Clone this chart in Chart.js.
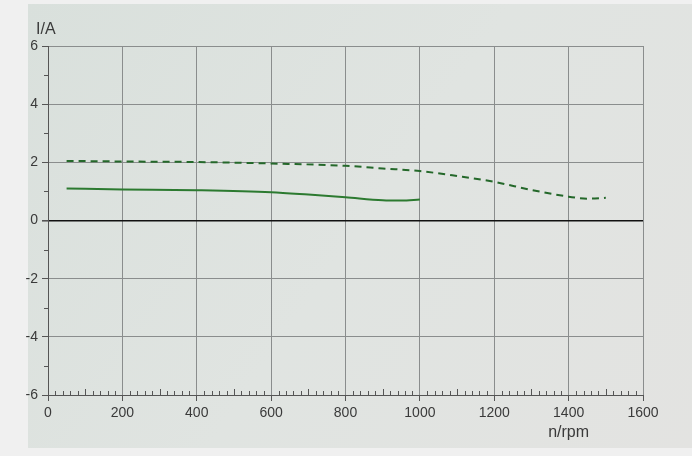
<!DOCTYPE html>
<html>
<head>
<meta charset="utf-8">
<script src="https://cdn.jsdelivr.net/npm/chart.js@4/dist/chart.umd.min.js"></script>
<style>
  html, body { margin: 0; padding: 0; background: #eeeeee; }
  #wrap { width: 692px; height: 456px; }
</style>
</head>
<body>
<div id="wrap"><canvas id="c" width="692" height="456"></canvas></div>
<script>
// Speed (rpm) and current (A) readings for the two curves
const speedDashed = [50, 200, 400, 600, 800, 900, 1000, 1100, 1200, 1300, 1400, 1450, 1500];
const currentDashed = [2.05, 2.03, 2.01, 1.96, 1.88, 1.79, 1.70, 1.53, 1.33, 1.05, 0.82, 0.75, 0.78];
const speedSolid = [50, 200, 400, 600, 700, 800, 900, 950, 1000];
const currentSolid = [1.10, 1.07, 1.04, 0.97, 0.89, 0.80, 0.70, 0.69, 0.72];

// Axis settings
const xTicks = [0, 200, 400, 600, 800, 1000, 1200, 1400, 1600];
const yTicks = [-6, -4, -2, 0, 2, 4, 6];
const xTitle = 'n/rpm';
const yTitle = 'I/A';

const toPoints = (xs, ys) => xs.map((x, i) => ({ x: x, y: ys[i] }));

const FONT = '"Liberation Sans", Arial, sans-serif';
const TEXT = '#3a3a3a';
const GRID = '#8a8d8d';

// Screen-like backdrop behind the plot
const backdrop = {
  id: 'backdrop',
  beforeDraw(chart) {
    const ctx = chart.ctx;
    ctx.save();
    ctx.fillStyle = '#f0f0f0';
    ctx.fillRect(0, 0, chart.width, chart.height);
    const g = ctx.createLinearGradient(28, 0, chart.width, chart.height);
    g.addColorStop(0, '#d9e0dc');
    g.addColorStop(0.5, '#e0e4e1');
    g.addColorStop(1, '#e3e3e1');
    ctx.fillStyle = g;
    ctx.fillRect(28, 4, chart.width - 28, chart.height - 12);
    ctx.restore();
  }
};

// Minor ticks and axis titles
const decorations = {
  id: 'decorations',
  afterDraw(chart) {
    const ctx = chart.ctx;
    const xs = chart.scales.x, ys = chart.scales.y;
    const area = chart.chartArea;
    ctx.save();
    ctx.strokeStyle = '#555';
    ctx.lineWidth = 1;
    ctx.beginPath();
    for (let v = 0; v <= 1600; v += 20) {
      if (v % 200 === 0) continue;
      const px = Math.round(xs.getPixelForValue(v)) + 0.5;
      const len = (v % 100 === 0) ? 6 : 4;
      ctx.moveTo(px, area.bottom);
      ctx.lineTo(px, area.bottom - len);
    }
    for (let v = -5; v <= 5; v += 2) {
      const py = Math.round(ys.getPixelForValue(v)) + 0.5;
      ctx.moveTo(area.left, py);
      ctx.lineTo(area.left - 4, py);
    }
    ctx.stroke();

    ctx.fillStyle = TEXT;
    ctx.font = '16px ' + FONT;
    ctx.textBaseline = 'middle';
    ctx.textAlign = 'left';
    ctx.fillText(yTitle, area.left - 12, 30);
    ctx.textAlign = 'center';
    ctx.fillText(xTitle, xs.getPixelForValue(1400), 433);
    ctx.restore();
  }
};

new Chart(document.getElementById('c'), {
  type: 'line',
  data: {
    datasets: [
      {
        data: toPoints(speedDashed, currentDashed),
        borderColor: '#24682a',
        borderWidth: 2,
        borderDash: [7, 5],
        pointRadius: 0,
        tension: 0.4,
        cubicInterpolationMode: 'monotone',
        fill: false
      },
      {
        data: toPoints(speedSolid, currentSolid),
        borderColor: '#2c7a30',
        borderWidth: 2,
        pointRadius: 0,
        tension: 0.4,
        cubicInterpolationMode: 'monotone',
        fill: false
      }
    ]
  },
  options: {
    responsive: false,
    animation: false,
    devicePixelRatio: 1,
    layout: { padding: { top: 46, right: 49, left: 0, bottom: 0 } },
    plugins: {
      legend: { display: false },
      tooltip: { enabled: false }
    },
    scales: {
      x: {
        type: 'linear',
        min: 0,
        max: 1600,
        afterBuildTicks(scale) { scale.ticks = xTicks.map(v => ({ value: v })); },
        afterFit(scale) { scale.height = 61; },
        ticks: {
          color: TEXT,
          font: { family: FONT, size: 14 },
          padding: 4,
          maxRotation: 0,
          callback: v => String(v)
        },
        grid: {
          color: GRID,
          lineWidth: 1,
          tickLength: 6,
          tickColor: '#555'
        },
        border: { color: '#555', width: 1 }
      },
      y: {
        type: 'linear',
        min: -6,
        max: 6,
        afterBuildTicks(scale) { scale.ticks = yTicks.map(v => ({ value: v })); },
        afterFit(scale) { scale.width = 48; },
        ticks: {
          color: TEXT,
          font: { family: FONT, size: 14 },
          padding: 4,
          callback: v => String(v)
        },
        grid: {
          color: ctx => (ctx.tick && ctx.tick.value === 0) ? '#111' : GRID,
          lineWidth: ctx => (ctx.tick && ctx.tick.value === 0) ? 1.6 : 1,
          tickLength: 6,
          tickColor: '#555'
        },
        border: { color: '#555', width: 1 }
      }
    }
  },
  plugins: [backdrop, decorations]
});
</script>
</body>
</html>
